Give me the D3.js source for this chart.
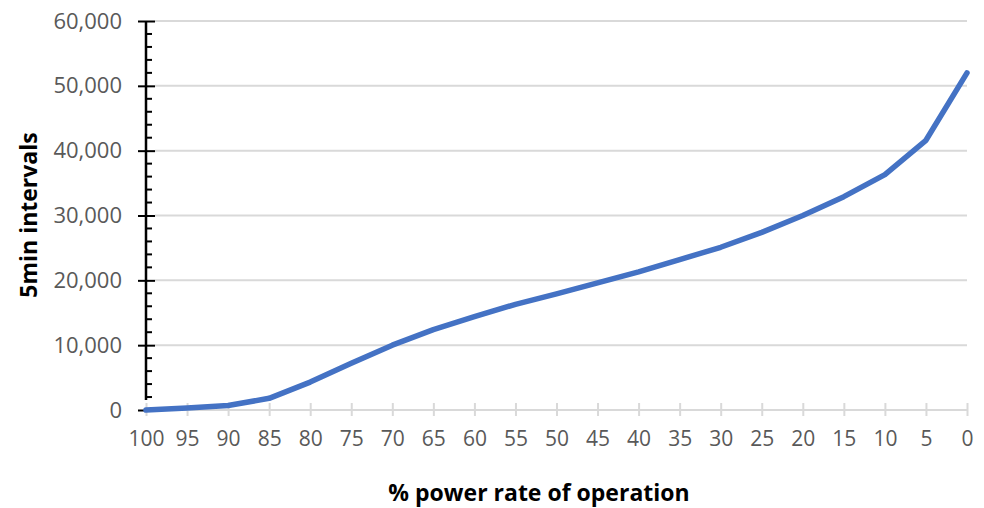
<!DOCTYPE html>
<html>
<head>
<meta charset="utf-8">
<script src="https://cdnjs.cloudflare.com/ajax/libs/d3/7.8.5/d3.min.js"></script>
<style>
    body { margin: 0; background: #ffffff; }
    text { font-family: "Open Sans", sans-serif; }
</style>
</head>
<body>
<div id="chart"></div>
<script>
'use strict';

// % power rate of operation (categories, left to right)
const powerRates = [100, 95, 90, 85, 80, 75, 70, 65, 60, 55, 50, 45, 40, 35, 30, 25, 20, 15, 10, 5, 0];
// number of 5 min intervals
const intervals = [0, 300, 700, 1800, 4300, 7200, 10000, 12400, 14400, 16300, 17900, 19600, 21300, 23200, 25100, 27400, 30000, 32900, 36300, 41600, 52000];
const yTicks = [0, 10000, 20000, 30000, 40000, 50000, 60000];

const width = 984, height = 508;
const margin = {top: 21, right: 17, bottom: 98, left: 146};
const innerW = width - margin.left - margin.right;
const innerH = height - margin.top - margin.bottom;

const svg = d3.select('#chart').append('svg')
    .attr('width', width)
    .attr('height', height);

const g = svg.append('g')
    .attr('transform', 'translate(' + margin.left + ',' + margin.top + ')');

const x = d3.scalePoint().domain(powerRates).range([0, innerW]);
const y = d3.scaleLinear().domain([0, 60000]).range([innerH, 0]);

// gridlines
g.append('g')
    .selectAll('line')
    .data(yTicks.filter(d => d > 0))
    .enter().append('line')
    .attr('x1', 9).attr('x2', innerW)
    .attr('y1', d => y(d)).attr('y2', d => y(d))
    .style('stroke', '#d9d9d9')
    .style('stroke-width', 2);

// x axis (grey, ticks crossing)
const xAxis = g.append('g')
    .attr('transform', 'translate(0,' + innerH + ')')
    .call(d3.axisBottom(x).tickSize(0).tickPadding(21));
xAxis.select('.domain').remove();
xAxis.append('line')
    .attr('x1', 0).attr('x2', innerW)
    .style('stroke', '#d9d9d9').style('stroke-width', 2);
xAxis.selectAll('.tick').append('line')
    .attr('y1', -7).attr('y2', 6)
    .style('stroke', '#d9d9d9').style('stroke-width', 2);
xAxis.selectAll('.tick text')
    .style('font-size', '21px')
    .style('fill', '#595959');

// y axis: black, major ticks crossing, minor ticks inside
const minor = d3.range(0, 60001, 2000).filter(d => d % 10000 !== 0);
g.append('g')
    .selectAll('line')
    .data(minor)
    .enter().append('line')
    .attr('x1', 0).attr('x2', 6)
    .attr('y1', d => y(d)).attr('y2', d => y(d))
    .style('stroke', '#000').style('stroke-width', 2);

const yAxis = g.append('g')
    .call(d3.axisLeft(y).tickValues(yTicks).tickSize(8).tickPadding(16).tickFormat(d3.format(',')));
yAxis.select('.domain').remove();
yAxis.append('line')
    .attr('x1', 0).attr('x2', 0)
    .attr('y1', y(60000)).attr('y2', y(0) - 10)
    .style('stroke', '#000').style('stroke-width', 2.5);
yAxis.selectAll('.tick line')
    .attr('x2', -8)
    .style('stroke', '#000').style('stroke-width', 2);
yAxis.selectAll('.tick').filter(d => d > 0).append('line')
    .attr('x1', 0).attr('x2', 9)
    .style('stroke', '#000').style('stroke-width', 2);
yAxis.selectAll('.tick text')
    .style('font-size', '22px')
    .style('fill', '#595959');

// the series
const line = d3.line()
    .x((d, i) => x(powerRates[i]))
    .y(d => y(d));

g.append('path')
    .datum(intervals)
    .attr('d', line)
    .style('fill', 'none')
    .style('stroke', '#4472c4')
    .style('stroke-width', 5.5)
    .style('stroke-linejoin', 'round')
    .style('stroke-linecap', 'round');

// axis titles
svg.append('text')
    .attr('x', 539)
    .attr('y', 501)
    .style('text-anchor', 'middle')
    .style('font-size', '23px')
    .style('font-weight', 'bold')
    .style('fill', '#000')
    .text('% power rate of operation');

svg.append('text')
    .attr('transform', 'translate(37,215) rotate(-90)')
    .style('text-anchor', 'middle')
    .style('font-size', '23px')
    .style('font-weight', 'bold')
    .style('fill', '#000')
    .text('5min intervals');
</script>
</body>
</html>
